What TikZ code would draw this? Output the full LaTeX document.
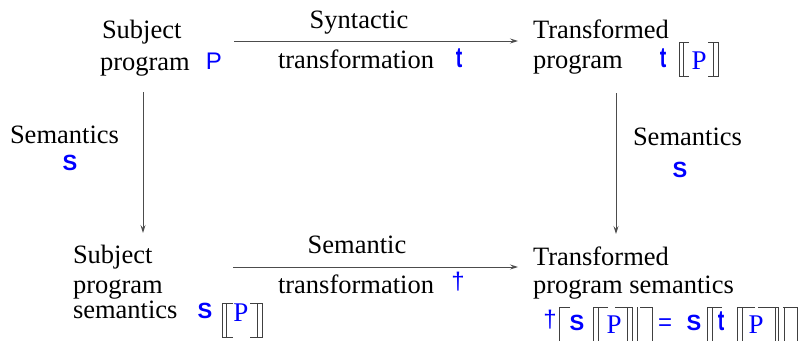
\documentclass[tikz,border=0pt]{standalone}
\usepackage{fontspec}
\usepackage{graphicx}
\setmainfont{Liberation Serif}
\newfontfamily\hv{Liberation Sans}
\usetikzlibrary{arrows.meta}
\newcommand{\boldT}{\scalebox{0.85}[1.25]{t}}
\begin{document}
\begin{tikzpicture}[x=1pt,y=-1pt,
  txt/.style={anchor=base west,inner sep=0pt,outer sep=0pt,font=\fontsize{26.5}{30}\selectfont},
  ctxt/.style={txt,anchor=base},
  bS/.style={anchor=base,inner sep=0pt,text=blue,font=\hv\bfseries\fontsize{22}{24}\selectfont},
  bT/.style={anchor=base,inner sep=0pt,text=blue,font=\hv\bfseries\fontsize{23}{26}\selectfont},
  dg/.style={anchor=base,inner sep=0pt,text=blue,font=\hv\fontsize{24}{26}\selectfont},
  sP/.style={anchor=base,inner sep=0pt,text=blue,font=\hv\fontsize{24}{26}\selectfont},
  rP/.style={anchor=base,inner sep=0pt,text=blue,font=\fontsize{27}{30}\selectfont},
  arr/.style={draw=black!70,line width=0.9pt,-{Stealth[length=8pt,width=5pt,inset=3pt]}},
  brk/.style={draw=black!75,line width=0.9pt}]
\useasboundingbox (0,0) rectangle (802,340);
\begin{scope}
\clip (0,0) rectangle (802,340);
% ---- top left
\node[txt] (tlA) at (102,38) {Subject};
\node[txt] (tlB) at (100,70) {program};
\node[sP] (tlP) at (214,69) {P};
% ---- top middle
\node[ctxt] (tmA) at (359,28) {Syntactic};
\node[txt] (tmB) at (278,68) {transformation};
\node[bT] (tmT) at (459,67) {\boldT};
% ---- top right
\node[txt] (trA) at (533,38) {Transformed};
\node[txt] (trB) at (533,68) {program};
\node[bT] (trT) at (663,67) {\boldT};
\node[rP] (trP) at (699,69) {P};
\draw[brk] (689,42) -- (679,42) -- (679,76) -- (689,76);
\draw[brk] (683,42) -- (683,76);
\draw[brk] (708,42) -- (718,42) -- (718,76) -- (708,76);
\draw[brk] (713,42) -- (713,76);
% ---- left semantics
\node[txt] (lsA) at (10,143) {Semantics};
\node[bS] (lsS) at (70,170) {S};
% ---- right semantics
\node[txt] (rsA) at (633,145) {Semantics};
\node[bS] (rsS) at (680,177) {S};
% ---- bottom left
\node[txt] (blA) at (73,263) {Subject};
\node[txt] (blB) at (73,293) {program};
\node[txt] (blC) at (73,318) {semantics};
\node[bS] (blS) at (205,318) {S};
\node[rP] (blP) at (241,321) {P};
\draw[brk] (233,303) -- (222,303) -- (222,337) -- (233,337);
\draw[brk] (226,303) -- (226,337);
\draw[brk] (250,303) -- (262,303) -- (262,337) -- (250,337);
\draw[brk] (257,303) -- (257,337);
% ---- bottom middle
\node[ctxt] (bmA) at (357,253) {Semantic};
\node[txt] (bmB) at (278,293) {transformation};
\node[dg] (bmD) at (458,289) {\char"2020};
% ---- bottom right
\node[txt] (brA) at (533,265) {Transformed};
\node[txt] (brB) at (533,293) {program semantics};
\node[dg] (brD) at (550,327) {\char"2020};
\node[bS] (brS1) at (577,330) {S};
\node[rP] (brP1) at (614,333) {P};
\node[sP] (brEq) at (665,330) {=};
\node[bS] (brS2) at (694,330) {S};
\node[bT] (brT) at (721,330) {\boldT};
\node[rP] (brP2) at (756,333) {P};
% brackets, lower part cut off by the edge
\draw[brk] (570,307) -- (559,307) -- (559,345);
\draw[brk] (608,307) -- (593,307) -- (593,345);
\draw[brk] (598,307) -- (598,345);
\draw[brk] (615,307) -- (632,307) -- (632,345);
\draw[brk] (627,307) -- (627,345);
\draw[brk] (640,307) -- (652,307) -- (652,345);
\draw[brk] (637,307) -- (637,345);
\draw[brk] (722,307) -- (707,307) -- (707,345);
\draw[brk] (712,307) -- (712,345);
\draw[brk] (755,307) -- (737,307) -- (737,345);
\draw[brk] (742,307) -- (742,345);
\draw[brk] (758,307) -- (778,307) -- (778,345);
\draw[brk] (775,307) -- (775,345);
\draw[brk] (783,307) -- (797,307) -- (797,345);
\draw[brk] (784,307) -- (784,345);
\end{scope}
% ---- connectors
\coordinate (tS) at (234,41);
\coordinate (tE) at (518,41);
\coordinate (bS) at (233,267);
\coordinate (bE) at (518,267);
\coordinate (lS) at (143,92);
\coordinate (lE) at (143,233);
\coordinate (rS) at (616,93);
\coordinate (rE) at (616,234);
\draw[arr] (tS) -- (tE);
\draw[arr] (bS) -- (bE);
\draw[arr] (lS) -- (lE);
\draw[arr] (rS) -- (rE);
\end{tikzpicture}
\end{document}
